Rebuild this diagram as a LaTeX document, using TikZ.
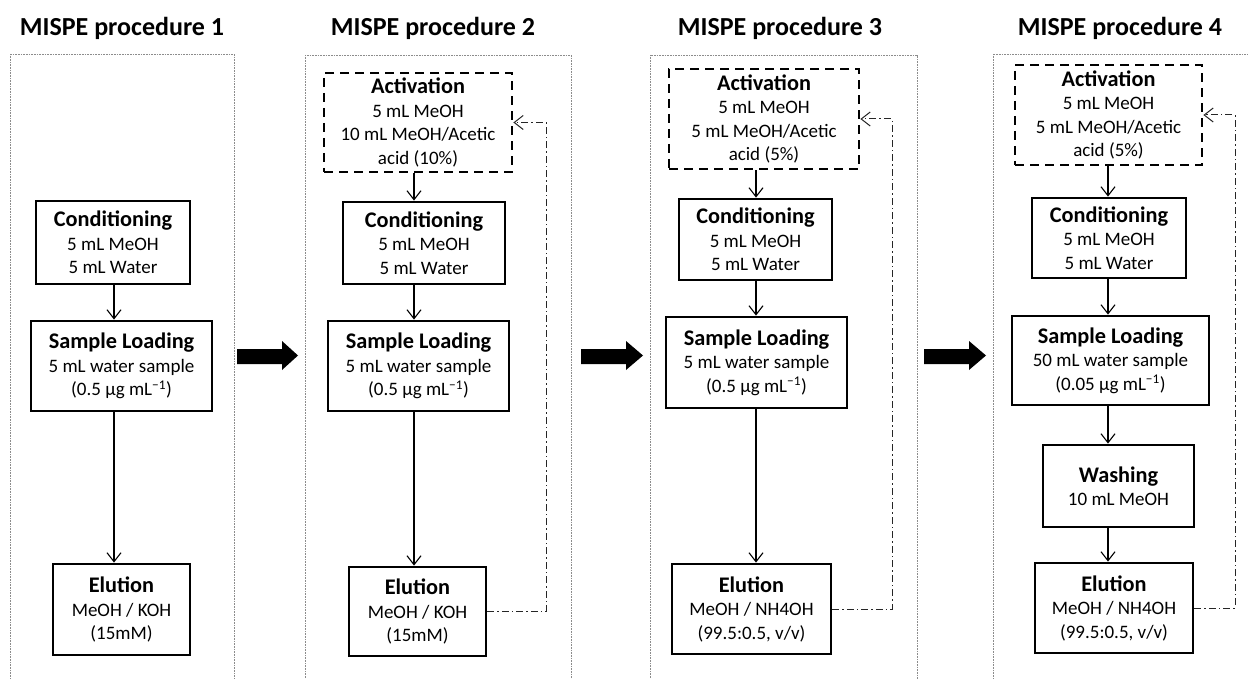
\documentclass[tikz,border=0pt]{standalone}
\usepackage{fontspec}
\setmainfont{Carlito}
\usetikzlibrary{arrows.meta}
\newcommand\hd[1]{{\fontsize{22.3}{24}\selectfont\bfseries #1}}
\newcommand\bodyfnt{\fontsize{19}{23.5}\selectfont}
\newcommand\ttlfnt{\fontsize{26}{30}\selectfont\bfseries}
\newcommand\perml{mL\textsuperscript{\char"2212 1}}
\begin{document}
\begin{tikzpicture}[x=1pt,y=-1pt,
  stepbox/.style={draw, line width=2.8pt, inner sep=0pt, align=center, font=\bodyfnt},
  actbox/.style={stepbox, dash pattern=on 9pt off 6pt},
  flow/.style={line width=1.1pt, -{Straight Barb[length=9pt,width=14pt,line width=1.1pt]}},
  fb/.style={line width=1pt, draw=black!85, dash pattern=on 7pt off 3pt on 1.5pt off 3pt, -{Straight Barb[length=9pt,width=14pt,line width=1pt]}},
  panel/.style={draw=black!45, line width=0.9pt, dash pattern=on 1pt off 0.6pt},
  ttl/.style={font=\ttlfnt, anchor=base},
  bigarrow/.style={fill=black}
]
\useasboundingbox (0,0) rectangle (1248,679);
\clip (0,0) rectangle (1248,679);

% panels
\draw[panel] (10,54) rectangle (234,700);
\draw[panel] (305,55) rectangle (571,700);
\draw[panel] (650,55) rectangle (917,700);
\draw[panel] (993,54) rectangle (1260,700);

% titles
\node[ttl] (t1) at (122,35.5) {MISPE procedure 1};
\node[ttl] (t2) at (433,35.5) {MISPE procedure 2};
\node[ttl] (t3) at (780,35.5) {MISPE procedure 3};
\node[ttl] (t4) at (1120,35.5) {MISPE procedure 4};

% big arrows between panels
\foreach \a/\h/\t in {237/282/298, 581/626/643, 924/969/986}{
  \fill[bigarrow] (\a,349) -- (\h,349) -- (\h,341) -- (\t,355.5) -- (\h,370) -- (\h,364) -- (\a,364) -- cycle;
}

% ---------- Procedure 1
\node[stepbox, minimum width=154pt, minimum height=83pt] (c1) at (113,242.5) {\hd{Conditioning}\\5 mL MeOH\\5 mL Water};
\node[stepbox, minimum width=181pt, minimum height=90pt] (s1) at (121.5,366) {\hd{Sample Loading}\\5 mL water sample\\(0.5 μg \perml)};
\node[stepbox, minimum width=137pt, minimum height=91pt] (e1) at (121.5,609.5) {\hd{Elution}\\MeOH / KOH\\(15mM)};
\coordinate (ax1) at (114,0);
\draw[flow] (ax1 |- c1.south) -- (ax1 |- s1.north);
\draw[flow] (ax1 |- s1.south) -- (ax1 |- e1.north);

% ---------- Procedure 2
\node[actbox, minimum width=188pt, minimum height=99pt] (a2) at (418,122.5) {\hd{Activation}\\5 mL MeOH\\10 mL MeOH/Acetic\\acid (10\%)};
\node[stepbox, minimum width=162pt, minimum height=82pt] (c2) at (424,243) {\hd{Conditioning}\\5 mL MeOH\\5 mL Water};
\node[stepbox, minimum width=181pt, minimum height=90pt] (s2) at (418.5,366) {\hd{Sample Loading}\\5 mL water sample\\(0.5 μg \perml)};
\node[stepbox, minimum width=137pt, minimum height=89pt] (e2) at (417.5,611.5) {\hd{Elution}\\MeOH / KOH\\(15mM)};
\coordinate (ax2) at (414,0);
\coordinate (fx2) at (546,0);
\draw[flow] (ax2 |- a2.south) -- (ax2 |- c2.north);
\draw[flow] (ax2 |- c2.south) -- (ax2 |- s2.north);
\draw[flow] (ax2 |- s2.south) -- (ax2 |- e2.north);
\draw[fb] (e2.east) -| (fx2 |- a2.east) -- (a2.east);

% ---------- Procedure 3
\node[actbox, minimum width=190pt, minimum height=100pt] (a3) at (764,119) {\hd{Activation}\\5 mL MeOH\\5 mL MeOH/Acetic\\acid (5\%)};
\node[stepbox, minimum width=153pt, minimum height=81pt] (c3) at (755.5,239.5) {\hd{Conditioning}\\5 mL MeOH\\5 mL Water};
\node[stepbox, minimum width=181pt, minimum height=91pt] (s3) at (756.5,362.5) {\hd{Sample Loading}\\5 mL water sample\\(0.5 μg \perml)};
\node[stepbox, minimum width=159pt, minimum height=90pt] (e3) at (751.5,609) {\hd{Elution}\\MeOH / NH4OH\\(99.5:0.5, v/v)};
\coordinate (ax3) at (756,0);
\coordinate (fx3) at (892,0);
\draw[flow] (ax3 |- a3.south) -- (ax3 |- c3.north);
\draw[flow] (ax3 |- c3.south) -- (ax3 |- s3.north);
\draw[flow] (ax3 |- s3.south) -- (ax3 |- e3.north);
\draw[fb] (e3.east) -| (fx3 |- a3.east) -- (a3.east);

% ---------- Procedure 4
\node[actbox, minimum width=187pt, minimum height=100pt] (a4) at (1108.5,115) {\hd{Activation}\\5 mL MeOH\\5 mL MeOH/Acetic\\acid (5\%)};
\node[stepbox, minimum width=154pt, minimum height=80pt] (c4) at (1109,238) {\hd{Conditioning}\\5 mL MeOH\\5 mL Water};
\node[stepbox, minimum width=197pt, minimum height=89pt] (s4) at (1110.5,360.5) {\hd{Sample Loading}\\50 mL water sample\\(0.05 μg \perml)};
\node[stepbox, minimum width=151pt, minimum height=82pt] (w4) at (1118.5,486) {\hd{Washing}\\10 mL MeOH};
\node[stepbox, minimum width=158pt, minimum height=90pt] (e4) at (1114,608) {\hd{Elution}\\MeOH / NH4OH\\(99.5:0.5, v/v)};
\coordinate (ax4) at (1108,0);
\coordinate (fx4) at (1235,0);
\draw[flow] (ax4 |- a4.south) -- (ax4 |- c4.north);
\draw[flow] (ax4 |- c4.south) -- (ax4 |- s4.north);
\draw[flow] (ax4 |- s4.south) -- (ax4 |- w4.north);
\draw[flow] (ax4 |- w4.south) -- (ax4 |- e4.north);
\draw[fb] (e4.east) -| (fx4 |- a4.east) -- (a4.east);
\end{tikzpicture}
\end{document}
